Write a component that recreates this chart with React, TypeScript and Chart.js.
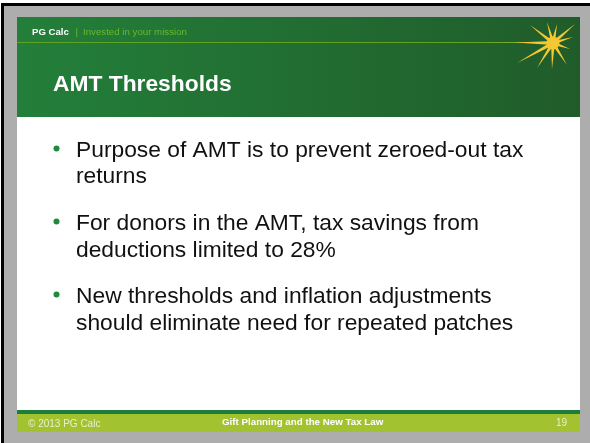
import { useEffect, useRef } from "react";
import { Chart, registerables } from "chart.js";

Chart.register(...registerables);

const headerBrand = "PG Calc";
const headerTagline = "Invested in your mission";
const slideTitle = "AMT Thresholds";
const bulletLines: string[][] = [
  ["Purpose of AMT is to prevent zeroed-out tax", "returns"],
  ["For donors in the AMT, tax savings from", "deductions limited to 28%"],
  ["New thresholds and inflation adjustments", "should eliminate need for repeated patches"],
];
const bulletBaselines: number[][] = [
  [157, 183],
  [230, 257],
  [303, 330],
];
const footerLeft = "© 2013 PG Calc";
const footerCenter = "Gift Planning and the New Tax Law";
const slideNumber = "19";

// starburst ray end points (relative to its center)
const rayEnds: number[][] = [
  [-23, -18], [-6, -21], [4, -19], [22, -19], [20, -6], [17, 6],
  [14, 22], [-1, 26], [-16, 25], [-36, 20], [-38, -0.5],
];

const FONT = "'Liberation Sans', Arial, sans-serif";

const slidePlugin = {
  id: "slidePlugin",
  beforeDraw(chart: any) {
    const ctx: CanvasRenderingContext2D = chart.ctx;
    ctx.save();
    // page frame
    ctx.fillStyle = "#ffffff";
    ctx.fillRect(0, 0, 590, 443);
    ctx.fillStyle = "#adadad";
    ctx.fillRect(4, 6, 586, 437);
    ctx.fillStyle = "#000000";
    ctx.fillRect(1, 3, 589, 3);
    ctx.fillRect(1, 3, 3, 440);

    // slide body
    ctx.fillStyle = "#ffffff";
    ctx.fillRect(17, 17, 563, 415);

    // header
    const g = ctx.createLinearGradient(17, 0, 580, 0);
    g.addColorStop(0, "#237f3a");
    g.addColorStop(1, "#205c2a");
    ctx.fillStyle = g;
    ctx.fillRect(17, 17, 563, 100);

    // header rule
    const lg = ctx.createLinearGradient(17, 0, 530, 0);
    lg.addColorStop(0, "#5fa320");
    lg.addColorStop(0.9, "#5fa320");
    lg.addColorStop(1, "rgba(140,190,40,0.9)");
    ctx.fillStyle = lg;
    ctx.fillRect(17, 42, 513, 1);

    // brand text
    ctx.textBaseline = "alphabetic";
    ctx.textAlign = "left";
    ctx.fillStyle = "#ffffff";
    ctx.font = `bold 9.6px ${FONT}`;
    ctx.fillText(headerBrand, 32, 35);
    ctx.fillStyle = "#6ab82c";
    ctx.font = `9.7px ${FONT}`;
    ctx.fillText("|", 75.5, 35);
    ctx.fillText(headerTagline, 83, 35);

    // title
    ctx.fillStyle = "#ffffff";
    ctx.font = `bold 22.8px ${FONT}`;
    ctx.fillText(slideTitle, 53, 91);

    // starburst
    const cx = 553, cy = 43;
    ctx.fillStyle = "#f5c832";
    rayEnds.forEach(([dx, dy]) => {
      const len = Math.hypot(dx, dy);
      const nx = -dy / len, ny = dx / len;
      const w = 1.9;
      ctx.beginPath();
      ctx.moveTo(cx + nx * w, cy + ny * w);
      ctx.lineTo(cx + dx, cy + dy);
      ctx.lineTo(cx - nx * w, cy - ny * w);
      ctx.closePath();
      ctx.fill();
    });
    ctx.beginPath();
    ctx.arc(cx, cy, 6.5, 0, Math.PI * 2);
    ctx.fill();

    // bullets
    bulletLines.forEach((lines, i) => {
      const bases = bulletBaselines[i];
      ctx.fillStyle = "#1e8a3c";
      ctx.beginPath();
      ctx.arc(56.5, bases[0] - 8.5, 3, 0, Math.PI * 2);
      ctx.fill();
      ctx.fillStyle = "#111111";
      ctx.font = `22.8px ${FONT}`;
      lines.forEach((t, j) => ctx.fillText(t, 76, bases[j]));
    });

    // footer
    ctx.fillStyle = "#1b7f3a";
    ctx.fillRect(17, 410, 563, 4);
    ctx.fillStyle = "#a3c230";
    ctx.fillRect(17, 414, 563, 18);
    ctx.fillStyle = "rgba(255,255,255,0.75)";
    ctx.font = `10px ${FONT}`;
    ctx.fillText(footerLeft, 28, 427);
    ctx.fillText(slideNumber, 556, 426);
    ctx.fillStyle = "#ffffff";
    ctx.font = `bold 9.75px ${FONT}`;
    ctx.fillText(footerCenter, 222, 425);
    ctx.restore();
  },
};

export default function App() {
  const ref = useRef<HTMLCanvasElement | null>(null);
  useEffect(() => {
    document.body.style.margin = "0";
    const canvas = ref.current;
    if (!canvas) return;
    const chart = new Chart(canvas, {
      type: "scatter",
      data: { datasets: [] },
      options: {
        animation: false,
        responsive: false,
        devicePixelRatio: 1,
        plugins: { legend: { display: false }, tooltip: { enabled: false } },
        scales: { x: { display: false }, y: { display: false } },
      },
      plugins: [slidePlugin],
    });
    return () => chart.destroy();
  }, []);
  return (
    <div style={{ width: 590, height: 443 }}>
      <canvas ref={ref} width={590} height={443} style={{ display: "block" }} />
    </div>
  );
}
